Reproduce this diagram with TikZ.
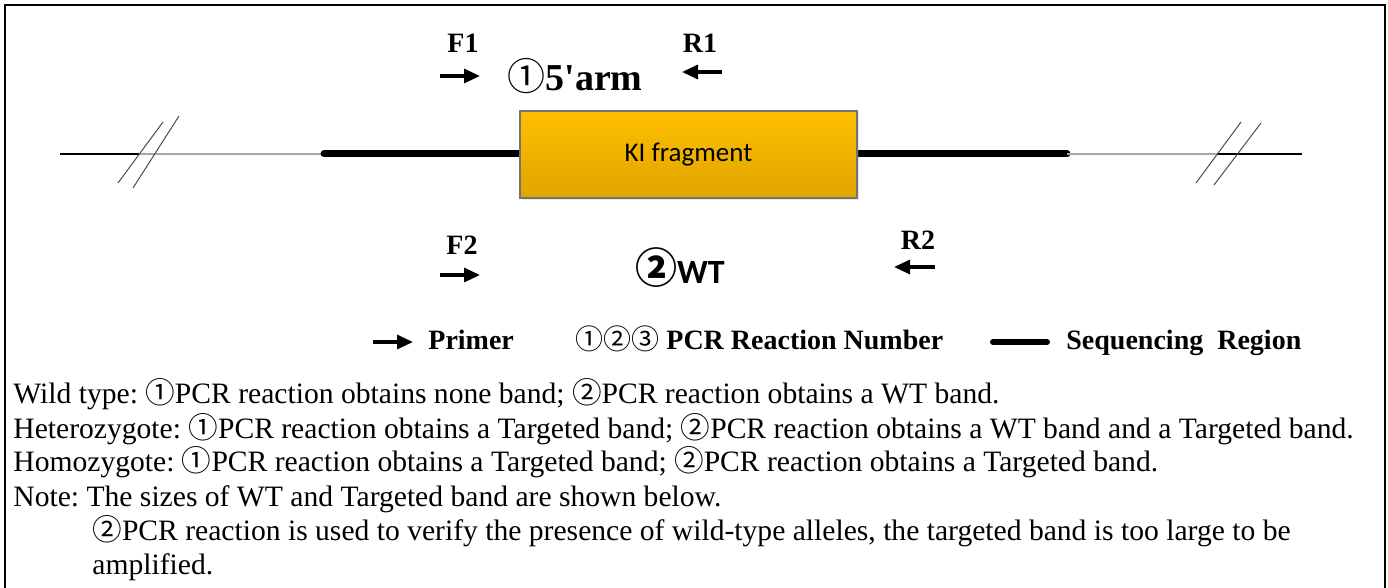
\documentclass[tikz,border=0pt]{standalone}
\usepackage{fontspec}
\setmainfont{Liberation Serif}
\newfontfamily\calfont{Carlito}
\newfontfamily\cjk{Noto Sans CJK SC}
\usetikzlibrary{arrows.meta,positioning,shadows}
\definecolor{kiTop}{HTML}{FFC000}
\definecolor{kiBot}{HTML}{E0A400}
\newcommand{\circnum}[1]{{\cjk #1}}
\frenchspacing

\begin{document}
\begin{tikzpicture}[x=0.5pt,y=-0.5pt,
  primer/.style={-{Triangle[length=8pt,width=7pt]},line width=1.6pt},
  lab/.style={font=\fontsize{14}{16}\selectfont\bfseries},
  body/.style={anchor=base west,inner sep=0pt,font=\fontsize{14.8}{17}\selectfont},
  seqline/.style={line width=3.5pt,line cap=round},
  greyline/.style={line width=1.2pt,gray!70},
  thinline/.style={line width=0.6pt},
  slash/.style={line width=0.5pt,gray!60!black},
  kibox/.style={draw=gray!90!black,line width=0.6pt,top color=kiTop,bottom color=kiBot,
    minimum width=168.5pt,minimum height=43.5pt,
    drop shadow={opacity=0.2,shadow xshift=1pt,shadow yshift=-1pt},
    font=\calfont\fontsize{13.5}{15}\selectfont}]
        \tikzstyle{every node}=[inner sep=0pt]
        \useasboundingbox (0,0) rectangle (1388,588);
        \draw[line width=1pt] (5,588) -- (5,5) -- (1385,5) -- (1385,588);

          \coordinate (a0) at (60,154);
          \coordinate (a1) at (139,154);
          \coordinate (a2) at (324,154);
          \coordinate (k1) at (520,154);
          \coordinate (k2) at (857,154);
          \coordinate (b1) at (1067,154);
          \coordinate (b2) at (1217,154);
          \coordinate (b3) at (1302,154);

          \path (a0) edge[thinline] (a1)
                (a1) edge[greyline] (a2)
                (a2) edge[seqline] (k1)
                (k2) edge[seqline] (b1)
                (b1) edge[greyline] (b2)
                (b2) edge[thinline] (b3);

          \draw[slash] (118,183) -- (163,122) (133,188) -- (179,116);
          \draw[slash] (1196,183) -- (1241,122) (1214,185) -- (1261,123);

          \node[kibox] (ki) at (688.5,154.5) {KI fragment};

          \node[lab] (f1) at (463,43) {F1};
          \node[lab] (r1) at (700,43) {R1};
          \node[font=\bfseries\fontsize{19}{21}\selectfont] (arm) at (575,76)
            {{\cjk\mdseries ①}5\textquotesingle arm};
          \coordinate (f1s) at (440,76);
          \coordinate (f1e) at (480,76);
          \coordinate (r1s) at (722,72);
          \coordinate (r1e) at (682,72);

          \node[lab] (f2) at (462,245) {F2};
          \node[lab] (r2) at (918,240) {R2};
          \node (wt) at (680,268)
            {{\cjk\bfseries\fontsize{21}{22}\selectfont ②}{\calfont\bfseries\fontsize{17}{19}\selectfont WT}};
          \coordinate (f2s) at (440,275);
          \coordinate (f2e) at (480,275);
          \coordinate (r2s) at (935,267);
          \coordinate (r2e) at (894,267);

          \path[primer] (f1s) edge (f1e)
                        (r1s) edge (r1e)
                        (f2s) edge (f2e)
                        (r2s) edge (r2e);

          \coordinate (lg1) at (373,342);
          \coordinate (lg2) at (413,342);
          \path[primer] (lg1) edge (lg2);
          \node[lab,anchor=base west] (primer) at (428,350) {Primer};
          \node[lab,anchor=base west] (rxn) at (575,350) {{\cjk\mdseries ①②③} PCR Reaction Number};
          \coordinate (lg3) at (993,342);
          \coordinate (lg4) at (1047,342);
          \path (lg3) edge[line width=3pt,line cap=round] (lg4);
          \node[lab,anchor=base west] (seqr) at (1066,350) {Sequencing\ \ Region};

          \node[body] (wild) at (13,404) {Wild type: \circnum{①}PCR reaction obtains none band; \circnum{②}PCR reaction obtains a WT band.};
          \node[body] (het) at (13,438) {Heterozygote: \circnum{①}PCR reaction obtains a Targeted band; \circnum{②}PCR reaction obtains a WT band and a Targeted band.};
          \node[body] (hom) at (13,472) {Homozygote: \circnum{①}PCR reaction obtains a Targeted band; \circnum{②}PCR reaction obtains a Targeted band.};
          \node[body] (note) at (13,506) {Note: The sizes of WT and Targeted band are shown below.};
          \node[body] (verify) at (92,540) {\circnum{②}PCR reaction is used to verify the presence of wild-type alleles, the targeted band is too large to be};
          \node[body] (ampl) at (92,574) {amplified.};

        \end{tikzpicture}
\end{document}
